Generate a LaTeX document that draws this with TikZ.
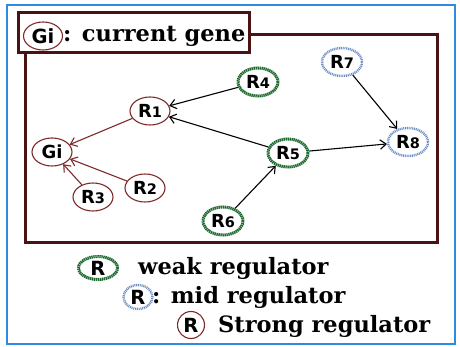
\documentclass[tikz,border=0pt]{standalone}
\usepackage{fontspec}
\setmainfont{DejaVu Serif}
\newfontfamily\labelfont{DejaVu Sans}
\usetikzlibrary{arrows.meta,shapes.geometric}
\definecolor{frameblue}{HTML}{2F8BDD}
\definecolor{maroon}{HTML}{4A1212}
\definecolor{strongred}{HTML}{7E2A2A}
\definecolor{weakgreen}{HTML}{1F6B30}
\definecolor{midblue}{HTML}{6F8EC4}
\tikzset{
  gene/.style={ellipse, minimum width=40pt, minimum height=28pt, inner sep=0pt,
    font=\labelfont\bfseries\fontsize{18}{18}\selectfont},
  bigtext/.style={font=\labelfont\bfseries\fontsize{19.5}{19.5}\selectfont},
  strong/.style={gene, draw=strongred, line width=1.1pt},
  weak/.style={gene, draw=weakgreen, line width=3pt, dash pattern=on 1.4pt off 0.6pt},
  mid/.style={gene, draw=midblue, line width=2.4pt, dash pattern=on 1pt off 0.8pt},
  link/.style={-{Straight Barb[length=6pt,width=9.5pt]}, line width=1.1pt, black},
  redlink/.style={link, strongred},
  caption/.style={anchor=west, inner sep=0pt, font=\bfseries\fontsize{22.5}{22.5}\selectfont}
}
\newcommand{\rlab}[1]{R{\fontsize{14.5}{14.5}\selectfont #1}}
\begin{document}
\begin{tikzpicture}[x=1pt,y=-1pt]
\useasboundingbox (0,0) rectangle (460,347);
\fill[white] (0,0) rectangle (460,347);
% outer frame
\draw[frameblue, line width=1.5pt] (7,5) rectangle (455,344);
% network frame and title box
\draw[maroon, line width=3pt] (25,35) rectangle (437,243);
\draw[maroon, line width=3pt, fill=white] (18,13) rectangle (249,53);
\node[strong, bigtext, minimum width=39pt, minimum height=28pt] (tg) at (43,36) {Gi};
\node[caption] (tt) at (63,36) {: current gene};
% regulators
\node[strong] (gi) at (52,152) {Gi};
\node[strong] (r1) at (150,111) {\rlab{1}};
\node[strong] (r2) at (145,188) {\rlab{2}};
\node[strong] (r3) at (93,197) {\rlab{3}};
\node[weak] (r4) at (258,82) {\rlab{4}};
\node[weak] (r5) at (288,153) {\rlab{5}};
\node[weak] (r6) at (223,221) {\rlab{6}};
\node[mid] (r7) at (342,62) {\rlab{7}};
\node[mid] (r8) at (408,142) {\rlab{8}};
% interactions
\draw[link] (r4) -- (r1);
\draw[link] (r5) -- (r1);
\draw[link] (r6) -- (r5);
\draw[link] (r5) -- (r8);
\draw[link] (r7) -- (r8);
\draw[redlink] (r1) -- (gi);
\draw[redlink] (r2) -- (gi);
\draw[redlink] (r3) -- (gi);
% legend
\node[weak, bigtext, minimum width=39pt, minimum height=23pt] (lw) at (98,268) {R};
\node[caption] (lwt) at (138,268) {weak regulator};
\node[mid, bigtext, minimum width=29pt, minimum height=24pt] (lm) at (138,297) {R};
\node[caption] (lmt) at (152,297) {: mid regulator};
\node[strong, bigtext, minimum width=27pt, minimum height=27pt] (ls) at (191,325) {R};
\node[caption] (lst) at (218,326) {Strong regulator};
\end{tikzpicture}
\end{document}
